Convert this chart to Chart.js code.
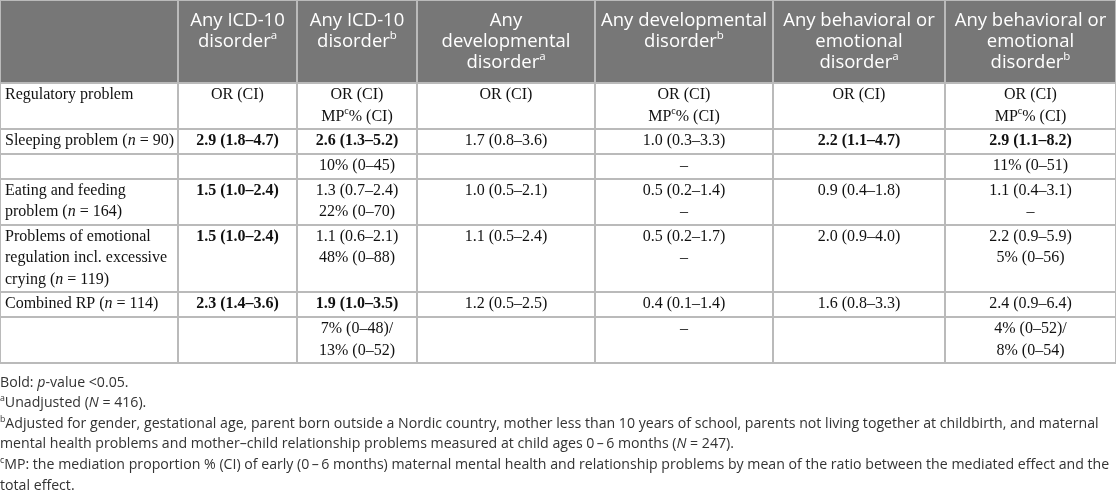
<!DOCTYPE html>
<html>
<head>
<meta charset="utf-8">
<script src="https://cdn.jsdelivr.net/npm/chart.js@4.4.0/dist/chart.umd.min.js"></script>
<style>
    html, body { margin: 0; padding: 0; background: #fff; }
    #wrap { width: 1116px; height: 490px; position: relative; }
</style>
</head>
<body>
<div id="wrap"><canvas id="tableau"></canvas></div>
<script>
// Markup in the texts: "|" new line, ^x superscript, _..._ italic, *...* bold
const columnHeaders = [
    "",
    "Any ICD-10|disorder^a",
    "Any ICD-10|disorder^b",
    "Any|developmental|disorder^a",
    "Any developmental|disorder^b",
    "Any behavioral or|emotional|disorder^a",
    "Any behavioral or|emotional|disorder^b"
];

const rowLabels = [
    "Regulatory problem",
    "Sleeping problem (_n_ = 90)",
    "",
    "Eating and feeding|problem (_n_ = 164)",
    "Problems of emotional|regulation incl. excessive|crying (_n_ = 119)",
    "Combined RP (_n_ = 114)",
    ""
];

const icdUnadjusted = ["OR (CI)", "*2.9 (1.8–4.7)*", "", "*1.5 (1.0–2.4)*", "*1.5 (1.0–2.4)*", "*2.3 (1.4–3.6)*", ""];
const icdAdjusted = ["OR (CI)|MP^c% (CI)", "*2.6 (1.3–5.2)*", "10% (0–45)", "1.3 (0.7–2.4)|22% (0–70)", "1.1 (0.6–2.1)|48% (0–88)", "*1.9 (1.0–3.5)*", "7% (0–48)/|13% (0–52)"];
const devUnadjusted = ["OR (CI)", "1.7 (0.8–3.6)", "", "1.0 (0.5–2.1)", "1.1 (0.5–2.4)", "1.2 (0.5–2.5)", ""];
const devAdjusted = ["OR (CI)|MP^c% (CI)", "1.0 (0.3–3.3)", "–", "0.5 (0.2–1.4)|–", "0.5 (0.2–1.7)|–", "0.4 (0.1–1.4)", "–"];
const behUnadjusted = ["OR (CI)", "*2.2 (1.1–4.7)*", "", "0.9 (0.4–1.8)", "2.0 (0.9–4.0)", "1.6 (0.8–3.3)", ""];
const behAdjusted = ["OR (CI)|MP^c% (CI)", "*2.9 (1.1–8.2)*", "11% (0–51)", "1.1 (0.4–3.1)|–", "2.2 (0.9–5.9)|5% (0–56)", "2.4 (0.9–6.4)", "4% (0–52)/|8% (0–54)"];

const footnotes = [
    "Bold: _p_-value <0.05.",
    "^aUnadjusted (_N_ = 416).",
    "^bAdjusted for gender, gestational age, parent born outside a Nordic country, mother less than 10 years of school, parents not living together at childbirth, and maternal",
    "mental health problems and mother–child relationship problems measured at child ages 0\u2009–\u20096 months (_N_ = 247).",
    "^cMP: the mediation proportion % (CI) of early (0\u2009–\u20096 months) maternal mental health and relationship problems by mean of the ratio between the mediated effect and the",
    "total effect."
];

// Mise en page
const colEdges = [0, 178, 297, 417, 595, 773, 945, 1116];
const headerHeight = 83;
const lineHeight = 21.3;
const rowPad = 3.5;
const headFont = "'Open Sans', sans-serif";
const bodyFont = "'Liberation Serif', 'Times New Roman', serif";
const noteFont = "'Open Sans', sans-serif";

const valueColumns = [rowLabels, icdUnadjusted, icdAdjusted, devUnadjusted, devAdjusted, behUnadjusted, behAdjusted];

// hauteur des lignes selon le nombre de lignes de texte
const rowLines = rowLabels.map((_, i) => Math.max(...valueColumns.map(col => col[i].split("|").length)));
const rowEdges = [0, headerHeight];
rowLines.forEach(n => rowEdges.push(rowEdges[rowEdges.length - 1] + rowPad + lineHeight * n));
const tableBottom = rowEdges[rowEdges.length - 1];

// un point d'ancrage par cellule
const cells = [];
columnHeaders.forEach((h, c) => {
    cells.push({ x: (colEdges[c] + colEdges[c + 1]) / 2, y: 0, text: h, kind: "head", align: "center" });
});
valueColumns.forEach((col, c) => {
    col.forEach((t, r) => {
        const left = c === 0;
        cells.push({
            x: left ? colEdges[0] + 5 : (colEdges[c] + colEdges[c + 1]) / 2,
            y: rowEdges[r + 1],
            text: t,
            kind: "body",
            align: left ? "left" : "center"
        });
    });
});

function parseRich(str) {
    const segs = [];
    let bold = false, italic = false, buf = "";
    const push = () => { if (buf) segs.push({ t: buf, bold, italic, sup: false }); buf = ""; };
    for (let i = 0; i < str.length; i++) {
        const ch = str[i];
        if (ch === "*") { push(); bold = !bold; }
        else if (ch === "_") { push(); italic = !italic; }
        else if (ch === "^") { push(); segs.push({ t: str[i + 1], bold, italic, sup: true }); i++; }
        else buf += ch;
    }
    push();
    return segs;
}

function segFont(s, size, family) {
    return (s.italic ? "italic " : "") + (s.bold ? "bold " : "") + (s.sup ? size * 0.62 : size) + "px " + family;
}

function drawRich(ctx, line, x, y, align, size, family, color) {
    const segs = parseRich(line);
    let total = 0;
    segs.forEach(s => { ctx.font = segFont(s, size, family); s.w = ctx.measureText(s.t).width; total += s.w; });
    let cx = align === "center" ? x - total / 2 : x;
    ctx.fillStyle = color;
    ctx.textAlign = "left";
    ctx.textBaseline = "middle";
    segs.forEach(s => {
        ctx.font = segFont(s, size, family);
        ctx.fillText(s.t, cx, s.sup ? y - size * 0.33 : y);
        cx += s.w;
    });
}

const tablePainter = {
    id: "tablePainter",
    beforeDraw(chart) {
        const { ctx, scales: { x, y } } = chart;
        ctx.save();
        ctx.fillStyle = "#777777";
        const x0 = x.getPixelForValue(colEdges[0]), x1 = x.getPixelForValue(colEdges[colEdges.length - 1]);
        const y0 = y.getPixelForValue(0), y1 = y.getPixelForValue(headerHeight);
        ctx.fillRect(x0, y0, x1 - x0, y1 - y0);
        ctx.restore();
    },
    afterDatasetsDraw(chart) {
        const { ctx } = chart;
        const meta = chart.getDatasetMeta(0);
        ctx.save();
        meta.data.forEach((pt, i) => {
            const cell = cells[i];
            if (!cell.text) return;
            cell.text.split("|").forEach((line, k) => {
                if (cell.kind === "head") {
                    drawRich(ctx, line, pt.x, pt.y + 20.5 + k * 21.3, "center", 18.5, headFont, "#ffffff");
                } else {
                    drawRich(ctx, line, pt.x, pt.y + 12 + k * lineHeight, cell.align, 16, bodyFont, "#111111");
                }
            });
        });
        // notes sous le tableau
        const top = chart.scales.y.getPixelForValue(tableBottom);
        footnotes.forEach((line, k) => {
            drawRich(ctx, line, 0, top + 19.5 + k * 20.6, "left", 14.15, noteFont, "#333333");
        });
        ctx.restore();
    }
};

const gridStyle = { color: "#bababa", lineWidth: 2, drawTicks: false };

new Chart(document.getElementById("tableau").getContext("2d"), {
    type: "scatter",
    data: {
        datasets: [{
            data: cells.map(c => ({ x: c.x, y: c.y })),
            pointRadius: 0,
            showLine: false
        }]
    },
    options: {
        responsive: true,
        maintainAspectRatio: false,
        animation: false,
        events: [],
        layout: { padding: { top: 0, left: 0, right: 0, bottom: 490 - tableBottom } },
        plugins: {
            legend: { display: false },
            tooltip: { enabled: false }
        },
        scales: {
            x: {
                type: "linear",
                min: colEdges[0],
                max: colEdges[colEdges.length - 1],
                afterBuildTicks: s => { s.ticks = colEdges.map(v => ({ value: v })); },
                ticks: { display: false },
                grid: gridStyle,
                border: { display: false }
            },
            y: {
                type: "linear",
                reverse: true,
                min: 0,
                max: tableBottom,
                afterBuildTicks: s => { s.ticks = rowEdges.map(v => ({ value: v })); },
                ticks: { display: false },
                grid: gridStyle,
                border: { display: false }
            }
        }
    },
    plugins: [tablePainter]
});
</script>
</body>
</html>
